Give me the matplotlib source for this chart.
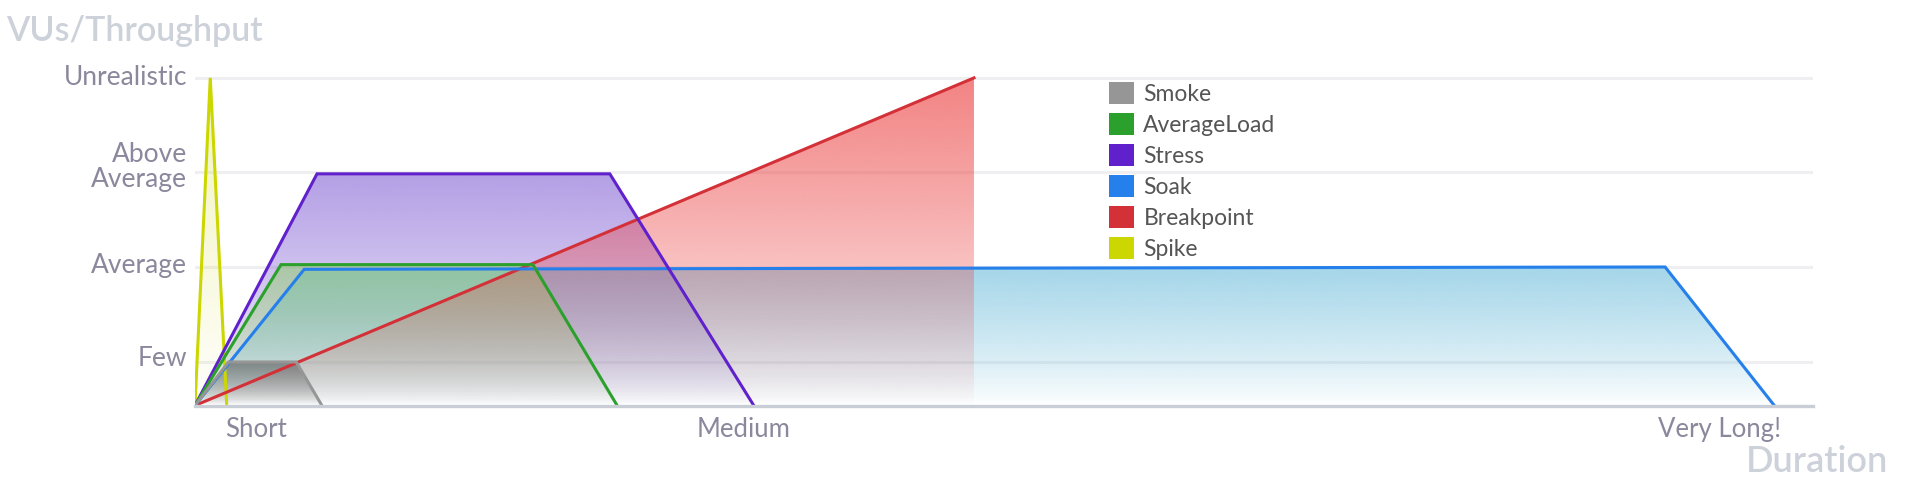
import numpy as np
import matplotlib
matplotlib.use("Agg")
import matplotlib.pyplot as plt
from matplotlib.colors import to_rgb
from matplotlib.patches import Patch, Polygon
from matplotlib.transforms import blended_transform_factory, offset_copy

plt.rcParams["font.family"] = ["Lato", "DejaVu Sans"]

# --- data (x: duration units, y: load level units) ---
series_names = ["Smoke", "AverageLoad", "Stress", "Soak", "Breakpoint", "Spike"]
smoke_x = [0, 0.55, 1.66, 2.08]
smoke_y = [0, 0.93, 0.93, 0]
avgload_x = [0, 1.41, 5.54, 6.92]
avgload_y = [0, 3.01, 3.01, 0]
stress_x = [0, 2.0, 6.8, 9.16]
stress_y = [0, 4.95, 4.95, 0]
soak_x = [0, 1.79, 24.1, 25.89]
soak_y = [0, 2.91, 2.96, 0]
breakpoint_x = [0, 12.77]
breakpoint_y = [0, 7.0]
spike_x = [0, 0.25, 0.52]
spike_y = [0, 7.0, 0]

ytick_vals = [0.93, 2.96, 4.99, 7.0]
ytick_labels = ["Few", "Average", "Above\nAverage", "Unrealistic"]
xtick_vals = [1, 9, 25]
xtick_labels = ["Short", "Medium", "Very Long!"]

line_colors = ["#969696", "#2ca02c", "#6020cc", "#2680eb", "#d43038", "#ccd600"]
fill_colors = ["#5a5a5a", "#96cd78", "#6e46cd", "#5ab4d7", "#ec4040", "#ccd600"]
fill_alphas = [0.65, 0.6, 0.52, 0.55, 0.65, 0.25]
# stacking of the fills, bottom to top (index into series)
fill_order = [2, 3, 1, 4, 0, 5]

xs = [smoke_x, avgload_x, stress_x, soak_x, breakpoint_x, spike_x]
ys = [smoke_y, avgload_y, stress_y, soak_y, breakpoint_y, spike_y]

W, H = 1909, 483
fig = plt.figure(figsize=(W / 100, H / 100), dpi=100)
ax = fig.add_axes([195 / W, (H - 405.5) / H, (1813 - 195) / W, (405.5 - 60) / H])


def gradient_fill(ax, x, y, color, a_top, z):
    px = list(x) + [x[-1], x[0]]
    py = list(y) + [0, 0]
    poly = Polygon(np.column_stack([px, py]), closed=True, facecolor="none", edgecolor="none")
    ax.add_patch(poly)
    t = np.linspace(0, 1, 256)
    grad = np.zeros((256, 1, 4))
    grad[..., :3] = to_rgb(color)
    grad[:, 0, 3] = a_top * (1 - t) ** 0.8
    im = ax.imshow(grad, extent=(min(x), max(x), 0, max(y)), aspect="auto",
                   origin="upper", zorder=z, interpolation="bilinear")
    im.set_clip_path(poly)


for k, i in enumerate(fill_order):
    gradient_fill(ax, xs[i], ys[i], fill_colors[i], fill_alphas[i], 2 + k * 0.1)
# first dataset's line sits on top
n = len(series_names)
for i in reversed(range(n)):
    ax.plot(xs[i], ys[i], color=line_colors[i], lw=2.2, zorder=4 + (n - i) * 0.1,
            solid_joinstyle="miter")

ax.set_xlim(0, (1813 - 195) / 61.0)
ax.set_ylim(0, (405.5 - 60) / 46.8)

for yv in ytick_vals:
    ax.axhline(yv, color="#efeff1", lw=2.2, zorder=1)

for s in ["top", "right", "left"]:
    ax.spines[s].set_visible(False)
ax.spines["bottom"].set_color("#c9cdd6")
ax.spines["bottom"].set_linewidth(2.4)
ax.spines["bottom"].set_zorder(6)

# y labels drawn as text so the two-line one can sit a little higher, like the original
ax.set_yticks(ytick_vals)
ax.set_yticklabels([])
ylab_tr = offset_copy(blended_transform_factory(ax.transAxes, ax.transData), fig=fig,
                      x=-8, y=0, units="dots")
ylab_shift = [3, 1, 5, 0]
for yv, lab, dy in zip(ytick_vals, ytick_labels, ylab_shift):
    ax.text(0, yv, lab, transform=offset_copy(ylab_tr, fig=fig, y=dy, units="dots"),
            ha="right", va="center", fontsize=19, color="#8b879c", linespacing=0.98)

ax.set_xticks(xtick_vals)
ax.set_xticklabels(xtick_labels, fontsize=18.5, color="#8b879c")
ax.tick_params(axis="both", length=0)
ax.tick_params(axis="x", pad=8)

fig.text(6 / W, 1 - 41 / H, "VUs/Throughput", fontsize=24.5, fontweight="semibold",
         color="#cdd2da", ha="left", va="baseline")
fig.text(1888 / W, 1 - 472 / H, "Duration", fontsize=26, fontweight="semibold",
         color="#cdd2da", ha="right", va="baseline")

handles = [Patch(facecolor=c, edgecolor="none") for c in line_colors]
ax.legend(handles, series_names, loc="upper left", bbox_to_anchor=(1109 / W, 1 - 82 / H),
          bbox_transform=fig.transFigure, frameon=False, fontsize=16.5,
          handlelength=1.1, handleheight=1.1, handletextpad=0.4, labelspacing=0.36,
          labelcolor="#555555", borderpad=0, borderaxespad=0)

fig.savefig("out.png", dpi=100, facecolor="white")
